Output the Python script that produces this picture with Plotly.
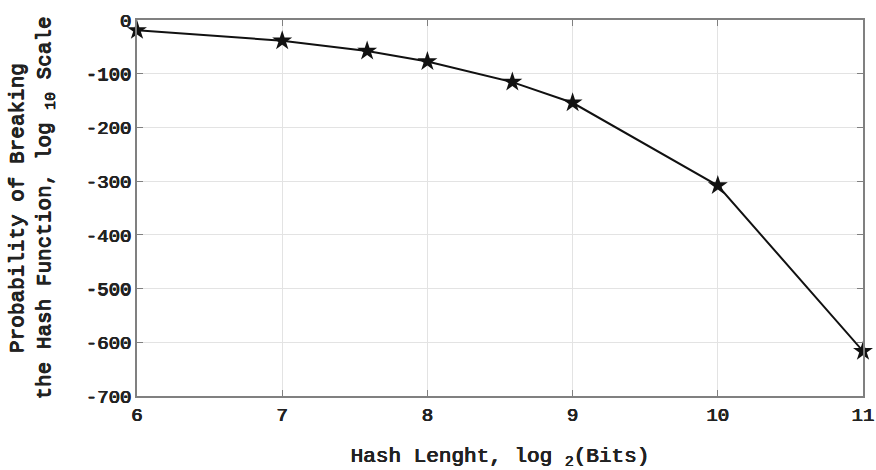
import plotly.graph_objects as go

x_log2_bits = [6, 7, 7.585, 8, 8.585, 9, 10, 11]
y_log10_prob = [-19.3, -38.5, -57.8, -77.1, -115.6, -154.1, -308.2, -616.5]
x_ticks = [6, 7, 8, 9, 10, 11]
y_ticks = [0, -100, -200, -300, -400, -500, -600, -700]

TXT = "#222222"
FONT = "Liberation Mono"
BOLD = "0.45px 0 0 #222222, -0.45px 0 0 #222222, 0 0.35px 0 #222222"

fig = go.Figure()
fig.add_trace(go.Scatter(
    x=x_log2_bits, y=y_log10_prob, mode="lines+markers",
    line=dict(color="#111111", width=2),
    marker=dict(symbol="star", size=15, color="#111111", line=dict(width=0)),
    showlegend=False, cliponaxis=False, hoverinfo="skip",
))

axis_common = dict(
    showline=True, linecolor="#808080", linewidth=1.5, mirror="ticks",
    ticks="inside", ticklen=6, tickcolor="#808080",
    showgrid=True, gridcolor="#e3e3e3", gridwidth=1, zeroline=False,
    automargin=False,
    tickfont=dict(family=FONT, size=19, color=TXT, shadow=BOLD),
)

fig.update_xaxes(
    range=[6, 11], tickvals=x_ticks, ticktext=[str(v) for v in x_ticks],
    title=dict(text="Hash Lenght, log <sub>2</sub>(Bits)",
               font=dict(family=FONT, size=21, color=TXT, shadow=BOLD), standoff=22),
    **axis_common,
)
fig.update_yaxes(
    range=[-700, 0], tickvals=y_ticks, ticktext=[str(v) for v in y_ticks],
    title=dict(text="Probability of Breaking<br>the Hash Function, log <sub>10</sub> Scale",
               font=dict(family=FONT, size=21, color=TXT, shadow=BOLD), standoff=29),
    **axis_common,
)

fig.update_layout(
    width=876, height=470,
    margin=dict(l=137, r=13, t=20, b=74),
    plot_bgcolor="white", paper_bgcolor="white",
)

fig.write_html("out.html", config={"displayModeBar": False},
               post_script="document.body.style.margin='0';document.body.style.overflow='hidden';")
